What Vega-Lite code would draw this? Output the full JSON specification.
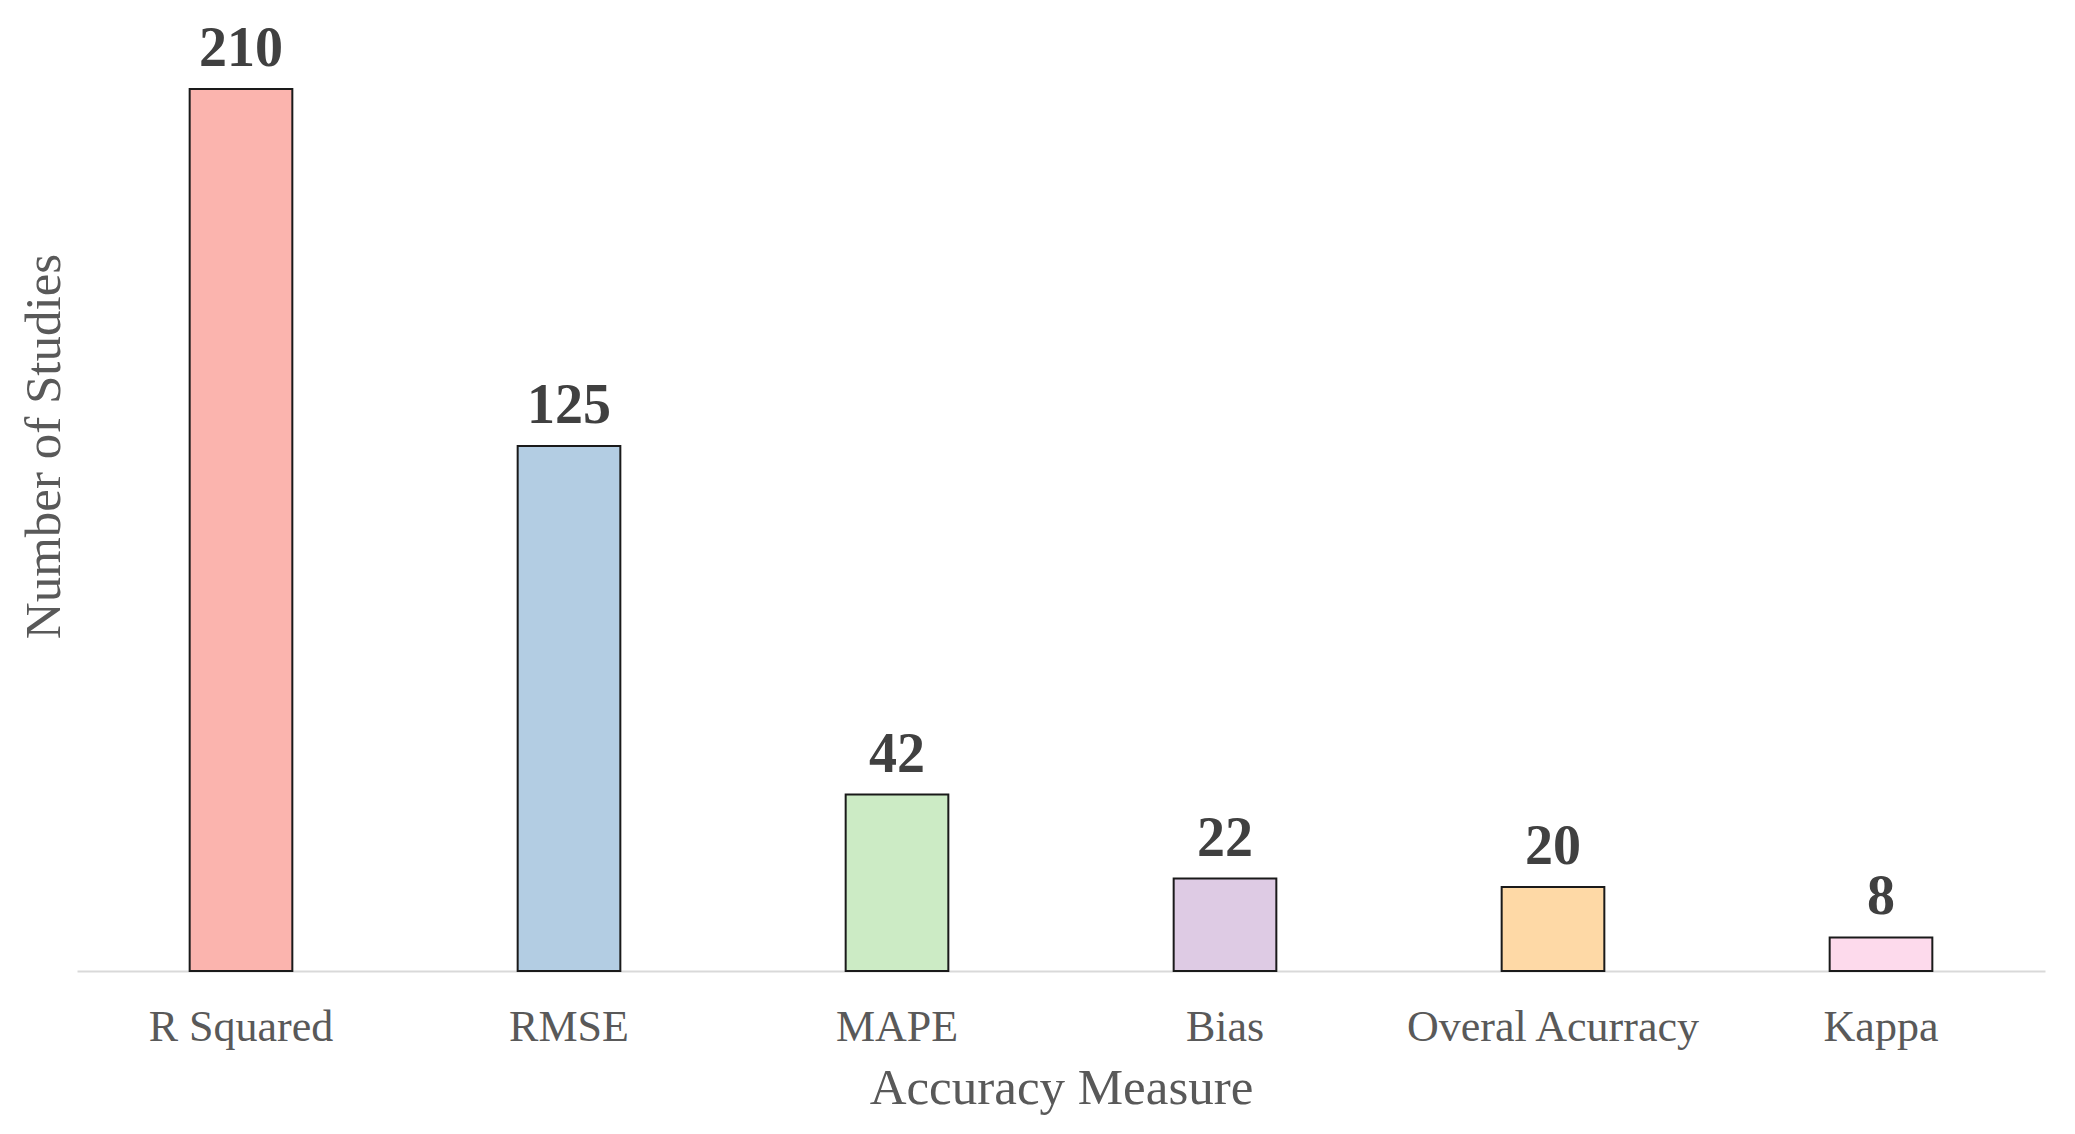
{
  "$schema": "https://vega.github.io/schema/vega-lite/v6.json",
  "autosize": {"type": "none"},
  "width": 1968,
  "height": 966,
  "padding": {"left": 77, "top": 5, "right": 30, "bottom": 163},
  "background": "white",
  "config": {"view": {"stroke": null}},
  "data": {"values": [
    {"measure": "R Squared", "studies": 210},
    {"measure": "RMSE", "studies": 125},
    {"measure": "MAPE", "studies": 42},
    {"measure": "Bias", "studies": 22},
    {"measure": "Overal Acurracy", "studies": 20},
    {"measure": "Kappa", "studies": 8}
  ]},
  "encoding": {
    "x": {
      "field": "measure", "type": "nominal", "sort": null,
      "scale": {"paddingInner": 0.687, "paddingOuter": 0.3435},
      "axis": {
        "title": "Accuracy Measure", "labelAngle": 0, "ticks": false, "tickSize": 0,
        "domainColor": "#d9d9d9", "domainWidth": 2, "labelLimit": 0,
        "labelFont": "Liberation Serif", "labelFontSize": 44, "labelColor": "#595959",
        "labelBaseline": "alphabetic", "labelPadding": 69,
        "titleFont": "Liberation Serif", "titleFontSize": 51, "titleFontWeight": "normal", "titleColor": "#595959",
        "titleBaseline": "alphabetic", "titleY": 132, "titleX": 984, "titleAnchor": null
      }
    },
    "y": {
      "field": "studies", "type": "quantitative",
      "scale": {"domain": [0, 230], "nice": false},
      "axis": {
        "title": "Number of Studies", "labels": false, "ticks": false, "domain": false, "grid": false,
        "titleFont": "Liberation Serif", "titleFontSize": 51, "titleFontWeight": "normal", "titleColor": "#595959",
        "titleAngle": -90, "titleBaseline": "alphabetic", "titleAlign": "center", "titleX": -18, "titleY": 441
      }
    }
  },
  "layer": [
    {
      "mark": {"type": "bar", "stroke": "#1a1a1a", "strokeWidth": 2},
      "encoding": {
        "color": {
          "field": "measure", "type": "nominal", "sort": null, "legend": null,
          "scale": {
            "domain": ["R Squared", "RMSE", "MAPE", "Bias", "Overal Acurracy", "Kappa"],
            "range": ["#fbb4ae", "#b3cde3", "#ccebc5", "#decbe4", "#fed9a6", "#fddaec"]
          }
        }
      }
    },
    {
      "mark": {"type": "text", "font": "Liberation Serif", "fontSize": 56, "fontWeight": "bold", "color": "#404040", "baseline": "alphabetic", "dy": -23},
      "encoding": {"text": {"field": "studies", "type": "quantitative"}}
    }
  ]
}
